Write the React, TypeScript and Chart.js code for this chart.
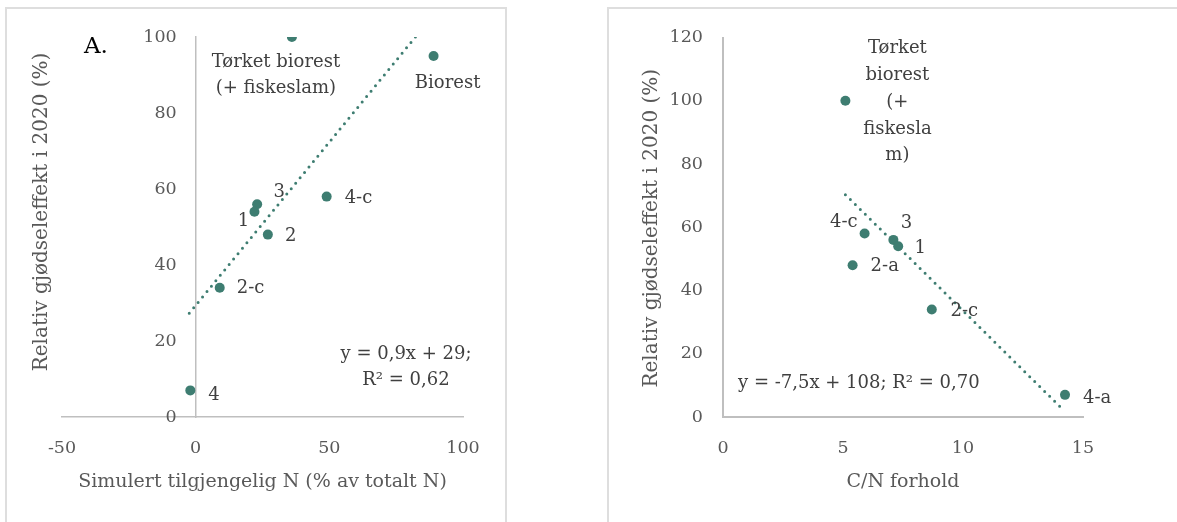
import React, { useEffect, useRef } from 'react';
import { Chart, registerables } from 'chart.js';

Chart.register(...registerables);

// ---------- data: left chart (A.) ----------
const leftNames = ['Tørket biorest\n(+ fiskeslam)', 'Biorest', '3', '1', '2', '4-c', '2-c', '4'];
const leftX = [36, 89, 23, 22, 27, 49, 9, -2];
const leftY = [100, 95, 56, 54, 48, 58, 34, 7];
const leftTrendX = [-2.4, 82.2];
const leftTrendY = [27.3, 100];
const leftXTicks = [-50, 0, 50, 100];
const leftYTicks = [0, 20, 40, 60, 80, 100];
const leftEquation = ['y = 0,9x + 29;', 'R² = 0,62'];
const leftXTitle = 'Simulert tilgjengelig N (% av totalt N)';
const leftYTitle = 'Relativ gjødseleffekt i 2020 (%)';
const leftPanel = 'A.';

// ---------- data: right chart ----------
const rightNames = ['Tørket\nbiorest\n(+\nfiskesla\nm)', '4-c', '3', '1', '2-a', '2-c', '4-a'];
const rightX = [5.1, 5.9, 7.1, 7.3, 5.4, 8.7, 14.25];
const rightY = [100, 58, 56, 54, 48, 34, 7];
const rightTrendX = [5.1, 14.07];
const rightTrendY = [70.3, 3.1];
const rightXTicks = [0, 5, 10, 15];
const rightYTicks = [0, 20, 40, 60, 80, 100, 120];
const rightEquation = ['y = -7,5x + 108; R² = 0,70'];
const rightXTitle = 'C/N forhold';
const rightYTitle = 'Relativ gjødseleffekt i 2020 (%)';

// ---------- styles ----------
const FONT = '"DejaVu Serif", serif';
const FS_TICK = 17.5;
const FS_LABEL = 18;
const FS_XTITLE = 19;
const FS_YTITLE = 20;
const TEAL = '#3e7d71';
const AXIS = '#bfbfbf';
const TICK = '#595959';
const LABEL = '#404040';

type Off = { dx: number; dy: number; align: CanvasTextAlign; lh?: number };
const leftOffsets: Off[] = [
  { dx: -16, dy: 25, align: 'center', lh: 26.7 },
  { dx: 14, dy: 27, align: 'center' },
  { dx: 22, dy: -12, align: 'center' },
  { dx: -11, dy: 10, align: 'center' },
  { dx: 23, dy: 2, align: 'center' },
  { dx: 18, dy: 2, align: 'left' },
  { dx: 17, dy: 1, align: 'left' },
  { dx: 18, dy: 5, align: 'left' },
];
const rightOffsets: Off[] = [
  { dx: 52, dy: -52.6, align: 'center', lh: 26.9 },
  { dx: -7, dy: -11, align: 'right' },
  { dx: 13, dy: -17, align: 'center' },
  { dx: 22, dy: 2, align: 'center' },
  { dx: 18, dy: 1, align: 'left' },
  { dx: 18.7, dy: 2, align: 'left' },
  { dx: 18, dy: 3, align: 'left' },
];

type TextSpec = {
  names: string[];
  offsets: Off[];
  equation: string[];
  eqX: number; eqY: number; eqAlign: CanvasTextAlign; eqLh: number;
  xTitle: string; yTitle: string; yTitleDx: number; yTitleDy: number;
  panel?: string; panelDx?: number; panelDy?: number;
  yTickPad?: number;
};

function makeTextPlugin(spec: TextSpec) {
  return {
    id: 'texts',
    afterDatasetsDraw(chart: any) {
      const ctx: CanvasRenderingContext2D = chart.ctx;
      const ca = chart.chartArea;
      const meta = chart.getDatasetMeta(0);
      ctx.save();
      ctx.textBaseline = 'middle';
      // y tick labels beside an axis that crosses at x = 0
      if (spec.yTickPad !== undefined) {
        const ys = chart.scales.y;
        const x0 = chart.scales.x.getPixelForValue(0);
        ctx.font = `${FS_TICK}px ${FONT}`;
        ctx.fillStyle = TICK;
        ctx.textAlign = 'right';
        ys.ticks.forEach((t: any) => {
          ctx.fillText(String(t.value), x0 - spec.yTickPad!, ys.getPixelForValue(t.value));
        });
      }
      ctx.font = `${FS_LABEL}px ${FONT}`;
      ctx.fillStyle = LABEL;
      spec.names.forEach((name, i) => {
        const el = meta.data[i];
        if (!el) return;
        const o = spec.offsets[i];
        ctx.textAlign = o.align;
        const lines = name.split('\n');
        lines.forEach((ln, k) => {
          ctx.fillText(ln, el.x + o.dx, el.y + o.dy + k * (o.lh || 0));
        });
      });
      ctx.textAlign = spec.eqAlign;
      spec.equation.forEach((ln, k) => {
        ctx.fillText(ln, ca.left + spec.eqX, ca.top + spec.eqY + k * spec.eqLh);
      });
      // axis titles
      ctx.fillStyle = TICK;
      ctx.textAlign = 'center';
      ctx.font = `${FS_XTITLE}px ${FONT}`;
      ctx.fillText(spec.xTitle, (ca.left + ca.right) / 2, ca.bottom + 64.7);
      ctx.save();
      ctx.font = `${FS_YTITLE}px ${FONT}`;
      ctx.translate(ca.left + spec.yTitleDx, (ca.top + ca.bottom) / 2 + spec.yTitleDy);
      ctx.rotate(-Math.PI / 2);
      ctx.fillText(spec.yTitle, 0, 0);
      ctx.restore();
      if (spec.panel) {
        ctx.fillStyle = '#000000';
        ctx.font = `23px ${FONT}`;
        ctx.textAlign = 'left';
        ctx.fillText(spec.panel, ca.left + (spec.panelDx || 0), ca.top + (spec.panelDy || 0));
      }
      ctx.restore();
    },
  };
}

function axisCommon(ticks: number[], padding: number, width: number, showTicks = true) {
  return {
    type: 'linear' as const,
    afterBuildTicks: (s: any) => {
      s.ticks = ticks.map((value) => ({ value }));
    },
    grid: { display: false, drawTicks: false, tickLength: 0 },
    border: { display: true, color: AXIS, width },
    ticks: {
      display: showTicks,
      font: { family: FONT, size: FS_TICK },
      color: TICK,
      padding,
      maxRotation: 0,
      autoSkip: false,
      callback: (v: any) => String(v),
    },
  };
}

function trendDataset(data: { x: number; y: number }[]) {
  return {
    type: 'line', data, showLine: true, pointRadius: 0, borderColor: TEAL,
    borderWidth: 3, borderDash: [0, 7], borderCapStyle: 'round', fill: false,
  } as any;
}

function buildLeft(canvas: HTMLCanvasElement) {
  const pts = leftX.map((x, i) => ({ x, y: leftY[i] }));
  const trend = leftTrendX.map((x, i) => ({ x, y: leftTrendY[i] }));
  return new Chart(canvas, {
    type: 'scatter',
    data: {
      datasets: [
        { data: pts, backgroundColor: TEAL, borderWidth: 0, pointRadius: 5, pointHoverRadius: 5 },
        trendDataset(trend),
      ],
    },
    options: {
      animation: false,
      responsive: false,
      devicePixelRatio: 1,
      layout: { padding: { left: 57, top: 30, right: 44, bottom: 0 } },
      plugins: { legend: { display: false }, tooltip: { enabled: false } },
      scales: {
        x: {
          ...axisCommon(leftXTicks, 21, 1.5), position: 'bottom', min: -50, max: 100,
          afterFit: (s: any) => { s.height = 105; },
        },
        y: {
          ...axisCommon(leftYTicks, 19, 1.5, false), position: { x: 0 }, min: 0, max: 100,
        },
      } as any,
    },
    plugins: [
      makeTextPlugin({
        names: leftNames, offsets: leftOffsets, equation: leftEquation,
        eqX: 344, eqY: 317, eqAlign: 'center', eqLh: 26,
        xTitle: leftXTitle, yTitle: leftYTitle, yTitleDx: -20.3, yTitleDy: -15,
        panel: leftPanel, panelDx: 22, panelDy: 9.7, yTickPad: 19,
      }),
    ],
  });
}

function buildRight(canvas: HTMLCanvasElement) {
  const pts = rightX.map((x, i) => ({ x, y: rightY[i] }));
  const trend = rightTrendX.map((x, i) => ({ x, y: rightTrendY[i] }));
  return new Chart(canvas, {
    type: 'scatter',
    data: {
      datasets: [
        { data: pts, backgroundColor: TEAL, borderWidth: 0, pointRadius: 5, pointHoverRadius: 5 },
        trendDataset(trend),
      ],
    },
    options: {
      animation: false,
      responsive: false,
      devicePixelRatio: 1,
      layout: { padding: { left: 0, top: 30, right: 109, bottom: 0 } },
      plugins: { legend: { display: false }, tooltip: { enabled: false } },
      scales: {
        x: {
          ...axisCommon(rightXTicks, 21, 2), position: 'bottom', min: 0, max: 15,
          afterFit: (s: any) => { s.height = 105; },
        },
        y: {
          ...axisCommon(rightYTicks, 20, 2), position: 'left', min: 0, max: 120,
          afterFit: (s: any) => { s.width = 116; },
        },
      } as any,
    },
    plugins: [
      makeTextPlugin({
        names: rightNames, offsets: rightOffsets, equation: rightEquation,
        eqX: 15, eqY: 345.7, eqAlign: 'left', eqLh: 26,
        xTitle: rightXTitle, yTitle: rightYTitle, yTitleDx: -71, yTitleDy: 1,
      }),
    ],
  });
}

export default function App() {
  const leftRef = useRef<HTMLCanvasElement>(null);
  const rightRef = useRef<HTMLCanvasElement>(null);

  useEffect(() => {
    document.body.style.margin = '0';
    document.body.style.overflow = 'hidden';
    const a = buildLeft(leftRef.current!);
    const b = buildRight(rightRef.current!);
    return () => {
      a.destroy();
      b.destroy();
    };
  }, []);

  const box = (left: number, width: number): React.CSSProperties => ({
    position: 'absolute', left, top: 7, width, height: 530, border: '2px solid #dedede',
    boxSizing: 'border-box', background: '#ffffff',
  });

  return (
    <div style={{ position: 'relative', width: 1177, height: 522, overflow: 'hidden', background: '#ffffff' }}>
      <div style={box(5, 502)} />
      <div style={box(607, 600)} />
      <canvas ref={leftRef} width={502} height={515} style={{ position: 'absolute', left: 5, top: 7 }} />
      <canvas ref={rightRef} width={585} height={515} style={{ position: 'absolute', left: 607, top: 7 }} />
    </div>
  );
}
